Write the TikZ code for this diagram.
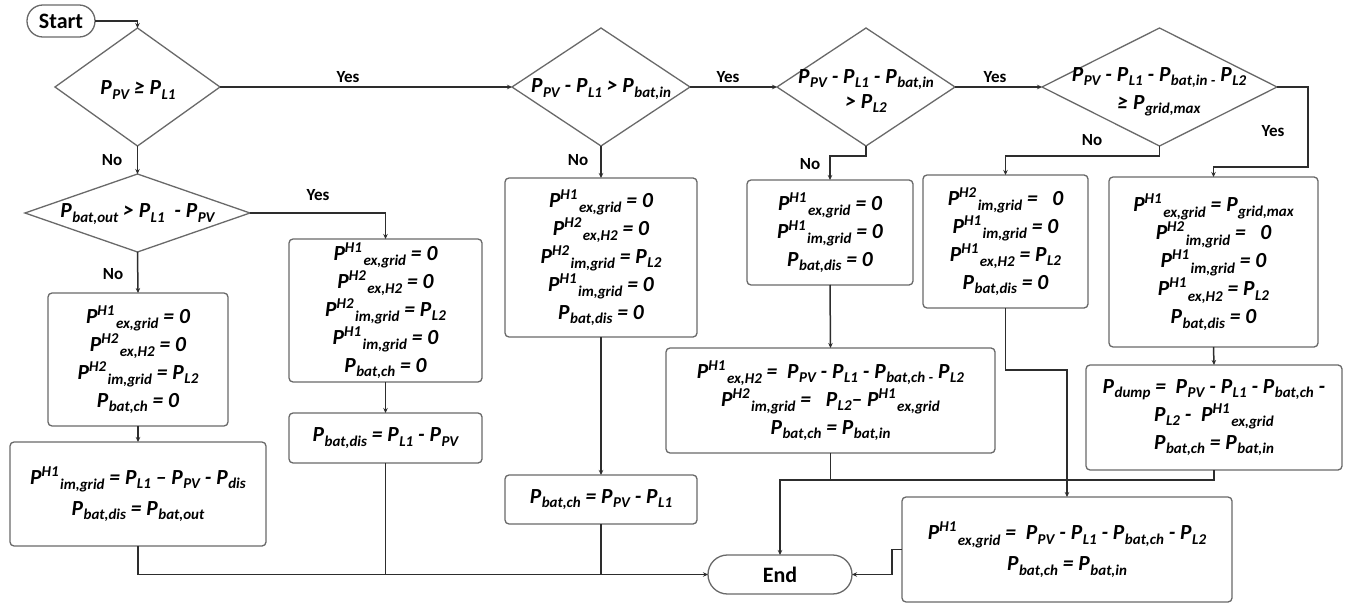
\documentclass[tikz,border=0pt]{standalone}
\usepackage{fontspec}
\setmainfont{Carlito}
\usetikzlibrary{arrows.meta,shapes.geometric}
\newcommand\sm{\fontsize{15}{15}\selectfont}
\newcommand\Pb[1]{P\kern0.5pt\raisebox{-4.5pt}{\sm #1}}
\newcommand\Ph[2]{P\raisebox{8pt}{\sm #1}\kern1.5pt\raisebox{-5.5pt}{\sm #2}}
\definecolor{bordergray}{RGB}{105,105,105}
\definecolor{linegray}{RGB}{45,45,45}
\tikzset{
  eqfont/.style={font=\fontsize{21.5}{28}\selectfont\bfseries\itshape},
  box/.style={draw=bordergray, line width=1.3pt, rounded corners=4pt, inner sep=0pt, outer sep=0pt, align=center, eqfont, text=black},
  dia/.style={draw=bordergray, line width=1.3pt, diamond, inner sep=0pt, outer sep=0pt},
  diatext/.style={align=center, eqfont, inner sep=0pt},
  term/.style={draw=bordergray, line width=1.3pt, inner sep=0pt, outer sep=0pt, font=\fontsize{22}{26}\selectfont\bfseries},
  lbl/.style={font=\fontsize{17}{20}\selectfont\bfseries, inner sep=0pt},
  conn/.style={draw=linegray, line width=1.5pt},
  arr/.style={conn, -{Stealth[length=5pt,width=4.5pt]}},
}
\begin{document}
\begin{tikzpicture}[x=1pt,y=-1pt]
\fill[white] (0,0) rectangle (1347,604);
\useasboundingbox (0,0) rectangle (1347,604);

% terminals
\node[term, rounded corners=15.9pt, minimum width=68pt, minimum height=32pt] (start) at (61,21) {Start};
\node[term, rounded corners=19.4pt, minimum width=144pt, minimum height=39pt] (end) at (780,574.5) {End};

% diamonds
\node[dia, minimum width=165pt, minimum height=118pt] (d1) at (137.5,87) {};
\node[diatext] (d1t) at (138,90) {\Pb{PV} ≥ \Pb{L1}};
\node[dia, minimum width=178pt, minimum height=118pt] (d2) at (601,87) {};
\node[diatext] (d2t) at (601,89) {\Pb{PV} - \Pb{L1} > \Pb{bat,in}};
\node[dia, minimum width=178pt, minimum height=118pt] (d3) at (866,87) {};
\node[diatext, font=\fontsize{21.5}{25}\selectfont\bfseries\itshape] (d3t) at (866,91) {\Pb{PV} - \Pb{L1} - \Pb{bat,in}\\ > \Pb{L2}};
\node[dia, minimum width=235pt, minimum height=118pt] (d4) at (1159.5,87) {};
\node[diatext] (d4t) at (1159,92) {\Pb{PV} - \Pb{L1} - \Pb{bat,in\ -} \Pb{L2}\\ ≥ \Pb{grid,max}};
\node[dia, minimum width=225pt, minimum height=78pt] (d5) at (137.5,213) {};
\node[diatext] (d5t) at (137.5,214) {\Pb{bat,out} > \Pb{L1}\ \ - \Pb{PV}};

% boxes
\node[box, minimum width=180pt, minimum height=133pt] (A) at (138,359.5)
  {\Ph{H1}{ex,grid} = 0\\ \Ph{H2}{ex,H2} = 0\\ \Ph{H2}{im,grid} = \Pb{L2}\\ \Pb{bat,ch} = 0};
\node[box, minimum width=256pt, minimum height=104pt] (B) at (138,494)
  {\Ph{H1}{im,grid} = \Pb{L1} – \Pb{PV} - \Pb{dis}\\[3pt] \Pb{bat,dis} = \Pb{bat,out}};
\node[box, minimum width=193pt, minimum height=143pt] (C) at (385.5,310.5)
  {\Ph{H1}{ex,grid} = 0\\ \Ph{H2}{ex,H2} = 0\\ \Ph{H2}{im,grid} = \Pb{L2}\\ \Ph{H1}{im,grid} = 0\\ \Pb{bat,ch} = 0};
\node[box, minimum width=193pt, minimum height=50pt] (D) at (385.5,438)
  {\Pb{bat,dis} = \Pb{L1} - \Pb{PV}};
\node[box, minimum width=192pt, minimum height=159pt] (E) at (601,257.5)
  {\Ph{H1}{ex,grid} = 0\\ \Ph{H2}{ex,H2} = 0\\ \Ph{H2}{im,grid} = \Pb{L2}\\ \Ph{H1}{im,grid} = 0\\ \Pb{bat,dis} = 0};
\node[box, minimum width=192pt, minimum height=49pt] (F) at (601,499.5)
  {\Pb{bat,ch} = \Pb{PV} - \Pb{L1}};
\node[box, minimum width=166pt, minimum height=105pt] (G) at (830,232.5)
  {\Ph{H1}{ex,grid} = 0\\ \Ph{H1}{im,grid} = 0\\ \Pb{bat,dis} = 0};
\node[box, minimum width=329pt, minimum height=105pt] (H) at (830.5,400.5)
  {\Ph{H1}{ex,H2} =\ \ \Pb{PV} - \Pb{L1} - \Pb{bat,ch\ -} \Pb{L2}\\ \Ph{H2}{im,grid} =\ \ \ \Pb{L2}– \Ph{H1}{ex,grid}\\ \Pb{bat,ch} = \Pb{bat,in}};
\node[box, minimum width=165pt, minimum height=133pt] (I) at (1005.5,241.5)
  {\Ph{H2}{im,grid} =\ \ \ 0\\ \Ph{H1}{im,grid} = 0\\ \Ph{H1}{ex,H2} = \Pb{L2}\\ \Pb{bat,dis} = 0};
\node[box, minimum width=209pt, minimum height=170pt] (J) at (1213.5,262)
  {\Ph{H1}{ex,grid} = \Pb{grid,max}\\ \Ph{H2}{im,grid} =\ \ \ 0\\ \Ph{H1}{im,grid} = 0\\ \Ph{H1}{ex,H2} = \Pb{L2}\\ \Pb{bat,dis} = 0};
\node[box, minimum width=256pt, minimum height=105pt] (L) at (1214,417.5)
  {\Pb{dump} =\ \ \Pb{PV} - \Pb{L1} - \Pb{bat,ch} -\\ \Pb{L2} -\ \ \Ph{H1}{ex,grid}\\ \Pb{bat,ch} = \Pb{bat,in}};
\node[box, minimum width=330pt, minimum height=105pt] (K) at (1067,549.5)
  {\Ph{H1}{ex,grid} =\ \ \Pb{PV} - \Pb{L1} - \Pb{bat,ch} - \Pb{L2}\\[3pt] \Pb{bat,ch} = \Pb{bat,in}};

% labels
\node[lbl] (y1) at (348,77) {Yes};
\node[lbl] (y2) at (728,77) {Yes};
\node[lbl] (y3) at (995,77) {Yes};
\node[lbl] (y4) at (1273,131) {Yes};
\node[lbl] (y5) at (318,195) {Yes};
\node[lbl] (n1) at (112,160) {No};
\node[lbl] (n2) at (578,160) {No};
\node[lbl] (n3) at (810,164) {No};
\node[lbl] (n4) at (1092,140) {No};
\node[lbl] (n5) at (113,274) {No};

% connectors
\coordinate (jn) at (1214,480);
\draw[arr] (start.east) -| (d1.north);
\draw[arr] (d1.east) -- (d2.west);
\draw[arr] (d2.east) -- (d3.west);
\draw[arr] (d3.east) -- (d4.west);
\draw[arr] (d4.east) -- ++(31,0) -- ++(0,80) -| (J.north);
\draw[arr] (d4.south) -- ++(0,10) -| (I.north);
\draw[arr] (d3.south) -- ++(0,10) -| (G.north);
\draw[arr] (d2.south) -- (E.north);
\draw[arr] (d1.south) -- (d5.north);
\draw[arr] (d5.east) -| (C.north);
\draw[arr] (d5.south) -- (A.north);
\draw[arr] (A.south) -- (B.north);
\draw[arr] (C.south) -- (D.north);
\draw[arr] (E.south) -- (F.north);
\draw[arr] (G.south) -- (H.north);
\draw[arr] (J.south) -- (L.north);
\draw[arr] (I.south) -- ++(0,62) -| (K.north);
\draw[arr] (B.south) |- (end.west);
\draw[conn] (D.south) -- (D.south |- end.west);
\draw[conn] (F.south) -- (F.south |- end.west);
\draw[arr] (L.south) -- (jn) -| (end.north);
\draw[conn] (H.south) -- (H.south |- jn);
\fill[linegray] (K.north |- jn) circle (1.8pt);
\draw[arr] (K.west) -- ++(-10,0) |- (end.east);
\end{tikzpicture}
\end{document}
